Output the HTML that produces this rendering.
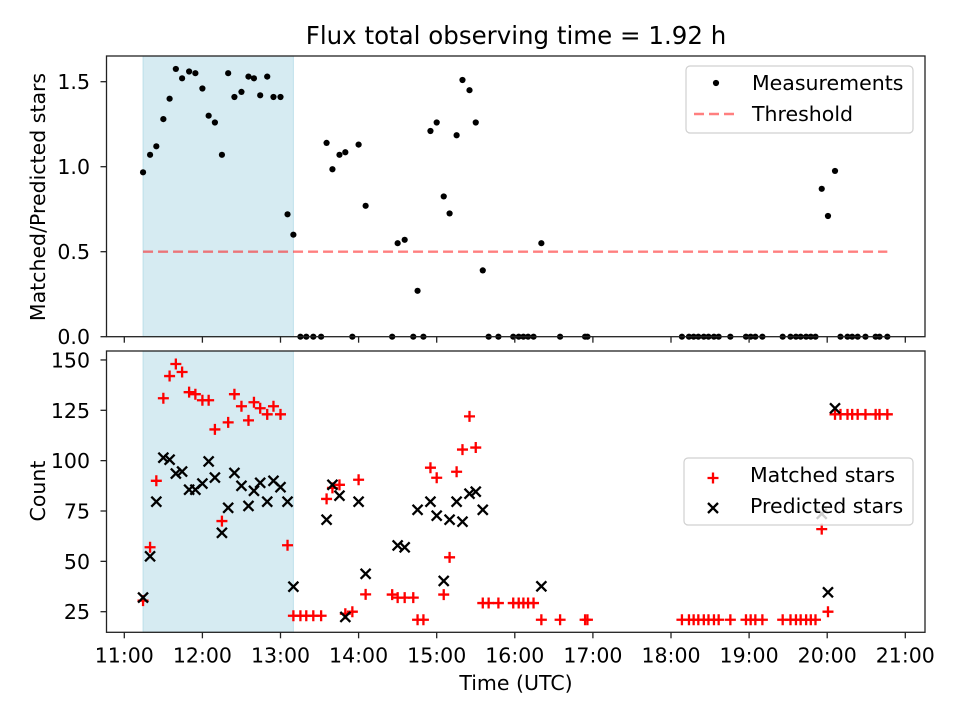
<!DOCTYPE html>
<html><head><meta charset="utf-8"><style>
html,body{margin:0;padding:0;background:#fff;}
svg{display:block;font-family:"DejaVu Sans","Liberation Sans",sans-serif;}
</style></head><body>
<svg id="chart" width="960" height="720" viewBox="0 0 960 720">
<text x="516" y="44" font-size="24.5" text-anchor="middle">Flux total observing time = 1.92 h</text>
</svg>
<script>
const times = [11.24,11.33,11.41,11.50,11.58,11.66,11.74,11.83,11.91,12.00,12.08,12.16,12.25,12.33,12.41,12.50,12.59,12.66,12.74,12.83,12.91,13.00,13.09,13.165,13.255,13.33,13.42,13.52,13.59,13.665,13.755,13.83,13.92,14.00,14.09,14.43,14.50,14.59,14.70,14.755,14.83,14.92,15.00,15.09,15.165,15.255,15.33,15.42,15.50,15.59,15.665,15.79,15.98,16.05,16.11,16.17,16.24,16.34,16.58,16.90,16.93,18.14,18.23,18.29,18.35,18.42,18.48,18.55,18.61,18.76,18.96,19.02,19.08,19.17,19.43,19.53,19.60,19.66,19.73,19.79,19.85,19.93,20.01,20.10,20.17,20.26,20.32,20.39,20.49,20.62,20.67,20.77];
const ratios = [0.967,1.07,1.12,1.28,1.40,1.575,1.52,1.56,1.55,1.46,1.30,1.26,1.07,1.55,1.41,1.44,1.53,1.52,1.42,1.53,1.41,1.41,0.72,0.60,0,0,0,0,1.14,0.985,1.07,1.085,0,1.13,0.77,0,0.55,0.57,0,0.27,0,1.21,1.26,0.825,0.725,1.185,1.51,1.45,1.26,0.39,0,0,0,0,0,0,0,0.55,0,0,0,0,0,0,0,0,0,0,0,0,0,0,0,0,0,0,0,0,0,0,0,0.87,0.71,0.975,0,0,0,0,0,0,0,0];
const matched = [30.5,57,90,131,142,148,144,134,133,130,130,115.5,70,119,133,127,120,129,126,123,127,123,58,23,23,23,23,23,81,86.5,88,24,25,90.5,33.6,33.5,32,32,32,21,21,96.5,91.5,33.5,52,94.5,105.5,122,106.5,29.3,29.3,29.3,29.3,29.3,29.3,29.3,29.3,21,21,21,21,21,21,21,21,21,21,21,21,21,21,21,21,21,21,21,21,21,21,21,21,66,25,123,123,123,123,123,123,123,123,123];
const predicted = [32,52.5,79.6,101.5,100.5,93.6,94.6,85.6,85.6,88.6,99.6,91.6,64.2,76.6,93.9,87.5,77.5,85,89,79.6,90,86.8,79.6,37.4,null,null,null,null,70.7,88,82.6,22.4,null,79.6,43.8,null,57.9,57,null,75.6,null,79.6,72.7,40.3,70.7,79.6,69.7,83.6,84.6,75.6,null,null,null,null,null,null,null,37.6,null,null,null,null,null,null,null,null,null,null,null,null,null,null,null,null,null,null,null,null,null,null,null,73.6,34.6,126,null,null,null,null,null,null,null,null];
const threshold = 0.5;
const spanStart = 11.24, spanEnd = 13.165;
const xTicks = [11,12,13,14,15,16,17,18,19,20,21];
const xTickLabels = ["11:00","12:00","13:00","14:00","15:00","16:00","17:00","18:00","19:00","20:00","21:00"];
const topTicks = [0,0.5,1.0,1.5];
const topTickLabels = ["0.0","0.5","1.0","1.5"];
const botTicks = [25,50,75,100,125,150];
const botTickLabels = ["25","50","75","100","125","150"];

const NS = "http://www.w3.org/2000/svg";
const svg = document.getElementById('chart');
const X = t => 124.3 + (t - 11) * 78.1;
const YT = v => 336.7 - v * 170;
const YB = c => 611.7 - (c - 25) * 2.014;
const L = 106.5, R = 925, T1 = 56, B1 = 336.7, T2 = 351, B2 = 632.3;
const FS = 20.5;
function mk(tag, attrs, parent) {
  const e = document.createElementNS(NS, tag);
  for (const k in attrs) e.setAttribute(k, attrs[k]);
  (parent || svg).appendChild(e);
  return e;
}
function txt(s, attrs) { const e = mk('text', attrs); e.textContent = s; return e; }

const s1 = mk('rect', {x: X(spanStart), y: T1, width: X(spanEnd) - X(spanStart), height: B1 - T1, fill: '#add8e6', 'fill-opacity': 0.5, stroke: '#add8e6', 'stroke-opacity': 0.7});


const s2 = mk('rect', {x: X(spanStart), y: T2, width: X(spanEnd) - X(spanStart), height: B2 - T2, fill: '#add8e6', 'fill-opacity': 0.5, stroke: '#add8e6', 'stroke-opacity': 0.7});



const th = mk('line', {x1: X(times[0]), x2: X(times[times.length - 1]), y1: YT(threshold), y2: YT(threshold), stroke: '#ff0000', 'stroke-opacity': 0.5, 'stroke-width': 2.4, 'stroke-dasharray': '10 5'});



times.forEach((t, i) => {
  const c = mk('circle', {cx: X(t), cy: YT(ratios[i]), r: 3.1, fill: '#000'});
  
  
});
times.forEach((t, i) => {
  if (matched[i] == null) return;
  const x = X(t), y = YB(matched[i]);
  const p = mk('path', {d: `M${x-5.5},${y}H${x+5.5}M${x},${y-5.5}V${y+5.5}`, stroke: '#ff0000', 'stroke-width': 2.3, fill: 'none'});
  
  
});
times.forEach((t, i) => {
  if (predicted[i] == null) return;
  const x = X(t), y = YB(predicted[i]);
  const p = mk('path', {d: `M${x-5},${y-5}L${x+5},${y+5}M${x-5},${y+5}L${x+5},${y-5}`, stroke: '#000', 'stroke-width': 2.3, fill: 'none'});
  
  
});

const f1 = mk('rect', {x: L, y: T1, width: R - L, height: B1 - T1, fill: 'none', stroke: '#222', 'stroke-width': 1.3});


const f2 = mk('rect', {x: L, y: T2, width: R - L, height: B2 - T2, fill: 'none', stroke: '#222', 'stroke-width': 1.3});



xTicks.forEach((t, i) => {
  const x = X(t);
  const a = mk('line', {x1: x, x2: x, y1: B1, y2: B1 + 6, stroke: '#222', 'stroke-width': 1.3});
  
  
  const b = mk('line', {x1: x, x2: x, y1: B2, y2: B2 + 6, stroke: '#222', 'stroke-width': 1.3});
  
  
  const l = txt(xTickLabels[i], {x: x, y: 662.5, 'font-size': FS, 'text-anchor': 'middle'});
  
  
});
topTicks.forEach((v, i) => {
  const y = YT(v);
  const a = mk('line', {x1: L - 6, x2: L, y1: y, y2: y, stroke: '#222', 'stroke-width': 1.3});
  
  
  const l = txt(topTickLabels[i], {x: 90, y: y + 7.5, 'font-size': FS, 'text-anchor': 'end'});
  
  
});
botTicks.forEach((v, i) => {
  const y = YB(v);
  const a = mk('line', {x1: L - 6, x2: L, y1: y, y2: y, stroke: '#222', 'stroke-width': 1.3});
  
  
  const l = txt(botTickLabels[i], {x: 90, y: y + 7.5, 'font-size': FS, 'text-anchor': 'end'});
  
  
});
</script>
<script>
(function(){
const svg = document.getElementById('chart');
function add(html){ svg.insertAdjacentHTML('beforeend', html); }
add('<text x="516" y="690" font-size="20.5" text-anchor="middle">Time (UTC)</text>');
add('<text transform="translate(45,197) rotate(-90)" font-size="20.5" text-anchor="middle">Matched/Predicted stars</text>');
add('<text transform="translate(45,491) rotate(-90)" font-size="20.5" text-anchor="middle">Count</text>');
add('<g><rect x="686" y="66" width="227" height="67" rx="4" fill="#fff" fill-opacity="0.8" stroke="#d0d0d0" stroke-width="1.2"/><circle cx="716" cy="83" r="3.1" fill="#000"/><text x="752" y="90" font-size="20.5">Measurements</text><line x1="694" x2="737" y1="114" y2="114" stroke="#ff0000" stroke-opacity="0.5" stroke-width="2.4" stroke-dasharray="10 5"/><text x="752" y="121" font-size="20.5">Threshold</text></g>');
add('<g><rect x="684" y="458" width="229" height="67" rx="4" fill="#fff" fill-opacity="0.8" stroke="#d0d0d0" stroke-width="1.2"/><path d="M707.5,478H718.5M713,472.5V483.5" stroke="#ff0000" stroke-width="2.3"/><text x="750" y="482" font-size="20.5">Matched stars</text><path d="M708,503L718,513M708,513L718,503" stroke="#000" stroke-width="2.3"/><text x="750" y="513" font-size="20.5">Predicted stars</text></g>');
})();
</script>
</body></html>
